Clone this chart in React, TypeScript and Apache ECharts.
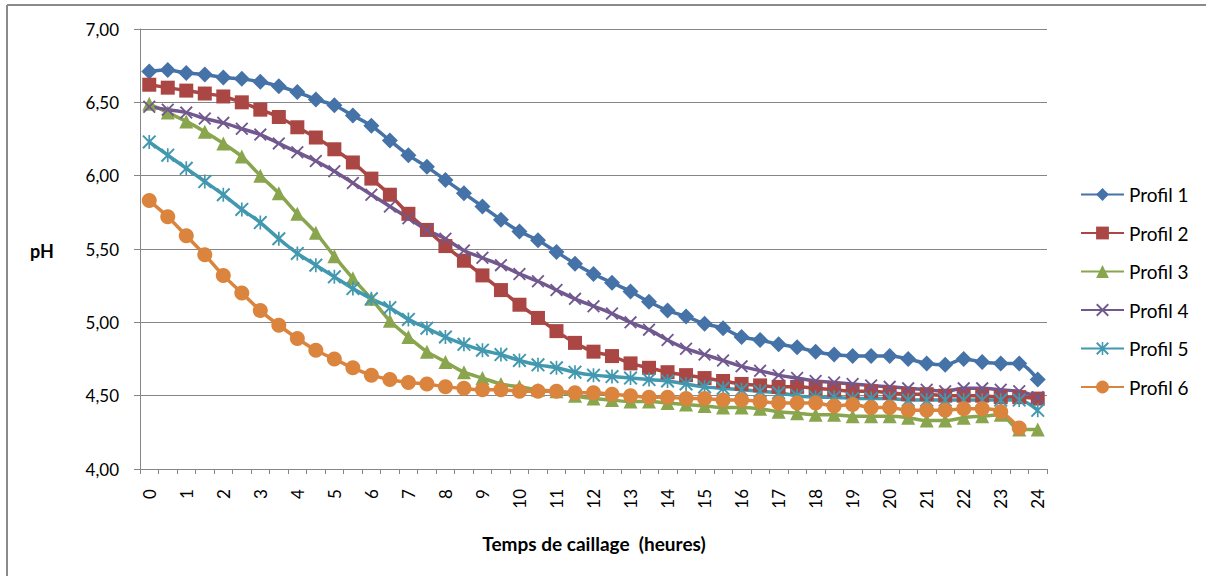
import React, { useEffect, useRef } from 'react';
import * as echarts from 'echarts';

const HOURS = ['0', '0.5', '1', '1.5', '2', '2.5', '3', '3.5', '4', '4.5', '5', '5.5', '6', '6.5', '7', '7.5', '8', '8.5', '9', '9.5', '10', '10.5', '11', '11.5', '12', '12.5', '13', '13.5', '14', '14.5', '15', '15.5', '16', '16.5', '17', '17.5', '18', '18.5', '19', '19.5', '20', '20.5', '21', '21.5', '22', '22.5', '23', '23.5', '24'];

const PROFIL_1 = [6.71, 6.72, 6.70, 6.69, 6.67, 6.66, 6.64, 6.61, 6.57, 6.52, 6.48, 6.41, 6.34,
  6.24, 6.14, 6.06, 5.97, 5.88, 5.79, 5.70, 5.62, 5.56, 5.48, 5.40, 5.33,
  5.27, 5.21, 5.14, 5.08, 5.04, 4.99, 4.96, 4.90, 4.88, 4.85, 4.83, 4.80,
  4.78, 4.77, 4.77, 4.77, 4.75, 4.72, 4.71, 4.75, 4.73, 4.72, 4.72, 4.61];
const PROFIL_2 = [6.62, 6.60, 6.58, 6.56, 6.54, 6.50, 6.45, 6.40, 6.33, 6.26, 6.18, 6.09, 5.98,
  5.87, 5.74, 5.63, 5.52, 5.42, 5.32, 5.22, 5.12, 5.03, 4.94, 4.86, 4.80,
  4.77, 4.72, 4.69, 4.66, 4.64, 4.62, 4.60, 4.58, 4.57, 4.56, 4.56, 4.55,
  4.54, 4.53, 4.53, 4.52, 4.51, 4.51, 4.50, 4.50, 4.50, 4.49, 4.49, 4.48];
const PROFIL_3 = [6.49, 6.43, 6.37, 6.30, 6.22, 6.13, 6.00, 5.88, 5.74, 5.61, 5.45, 5.30, 5.16,
  5.01, 4.90, 4.80, 4.73, 4.66, 4.62, 4.58, 4.56, 4.54, 4.53, 4.50, 4.48,
  4.47, 4.46, 4.46, 4.45, 4.44, 4.43, 4.42, 4.42, 4.41, 4.39, 4.38, 4.37,
  4.37, 4.36, 4.36, 4.36, 4.35, 4.33, 4.33, 4.35, 4.36, 4.37, 4.27, 4.27];
const PROFIL_4 = [6.47, 6.45, 6.43, 6.39, 6.36, 6.32, 6.28, 6.22, 6.16, 6.10, 6.03, 5.95, 5.87,
  5.79, 5.71, 5.63, 5.57, 5.49, 5.44, 5.39, 5.33, 5.28, 5.22, 5.16, 5.11,
  5.06, 5.00, 4.95, 4.88, 4.82, 4.78, 4.74, 4.70, 4.67, 4.64, 4.62, 4.60,
  4.59, 4.58, 4.57, 4.56, 4.55, 4.54, 4.53, 4.55, 4.55, 4.54, 4.53, 4.49];
const PROFIL_5 = [6.23, 6.14, 6.05, 5.96, 5.87, 5.77, 5.68, 5.57, 5.47, 5.39, 5.31, 5.23, 5.16,
  5.10, 5.02, 4.96, 4.90, 4.85, 4.81, 4.78, 4.74, 4.71, 4.69, 4.66, 4.64,
  4.63, 4.62, 4.61, 4.60, 4.58, 4.56, 4.55, 4.54, 4.53, 4.52, 4.50, 4.49,
  4.49, 4.48, 4.48, 4.48, 4.47, 4.47, 4.47, 4.47, 4.47, 4.47, 4.47, 4.40];
const PROFIL_6 = [5.83, 5.72, 5.59, 5.46, 5.32, 5.20, 5.08, 4.98, 4.89, 4.81, 4.75, 4.69, 4.64,
  4.61, 4.59, 4.58, 4.56, 4.55, 4.54, 4.54, 4.53, 4.53, 4.53, 4.52, 4.52,
  4.51, 4.50, 4.49, 4.49, 4.48, 4.48, 4.47, 4.47, 4.46, 4.45, 4.45, 4.45,
  4.43, 4.44, 4.42, 4.42, 4.40, 4.40, 4.40, 4.41, 4.41, 4.39, 4.28, null];

const SERIES_NAMES = ['Profil 1', 'Profil 2', 'Profil 3', 'Profil 4', 'Profil 5', 'Profil 6'];
const SERIES_DATA = [PROFIL_1, PROFIL_2, PROFIL_3, PROFIL_4, PROFIL_5, PROFIL_6];
const COLORS = ['#4572A7', '#AA4643', '#89A54E', '#71588F', '#4198AF', '#DB843D'];

const X_SYMBOL = 'path://M0,1 L1,0 L10,9 L9,10 Z M9,0 L10,1 L1,10 L0,9 Z';
const STAR_SYMBOL = 'path://M0,1 L1,0 L10,9 L9,10 Z M9,0 L10,1 L1,10 L0,9 Z M4.4,0 L5.6,0 L5.6,10 L4.4,10 Z';
const SYMBOLS = ['diamond', 'rect', 'triangle', X_SYMBOL, STAR_SYMBOL, 'circle'];
const SYMBOL_SIZES = [16, 14, 14, 13, 14, 15];

const X_TITLE = 'Temps de caillage  (heures)';
const Y_TITLE = 'pH';
const FONT = 'Lato, "Open Sans", sans-serif';

export default function App() {
  const ref = useRef<HTMLDivElement>(null);
  useEffect(() => {
    if (!ref.current) return;
    const chart = echarts.init(ref.current, undefined, { renderer: 'svg' });
    chart.setOption({
      animation: false,
      backgroundColor: '#ffffff',
      textStyle: { fontFamily: FONT },
      grid: { left: 140, right: 159, top: 29, bottom: 107, containLabel: false },
      legend: {
        orient: 'vertical',
        left: 1080,
        top: 185,
        padding: 0,
        itemWidth: 43,
        itemHeight: 16,
        itemGap: 19.5,
        textStyle: { fontSize: 19, fontFamily: FONT, color: '#000', padding: [0, 0, 0, 0] },
        data: SERIES_NAMES,
      },
      xAxis: {
        type: 'category',
        data: HOURS,
        boundaryGap: true,
        axisLine: { show: true, lineStyle: { color: '#868686', width: 1 } },
        axisTick: { show: true, interval: 0, length: 5, lineStyle: { color: '#868686' } },
        axisLabel: { interval: 1, rotate: 90, margin: 20, fontSize: 17, fontFamily: FONT, color: '#000' },
        splitLine: { show: false },
      },
      yAxis: {
        type: 'value',
        min: 4,
        max: 7,
        interval: 0.5,
        axisLine: { show: true, lineStyle: { color: '#868686', width: 1 } },
        axisTick: { show: true, length: 6, lineStyle: { color: '#868686' } },
        axisLabel: {
          margin: 21,
          fontSize: 17,
          fontFamily: FONT,
          color: '#000',
          formatter: (v: number) => v.toFixed(2).replace('.', ','),
        },
        splitLine: { show: true, lineStyle: { color: '#868686', width: 1 } },
      },
      series: SERIES_NAMES.map((name, k) => ({
        name,
        type: 'line',
        data: SERIES_DATA[k],
        smooth: 0.3,
        symbol: SYMBOLS[k],
        symbolSize: SYMBOL_SIZES[k],
        showSymbol: true,
        showAllSymbol: true,
        connectNulls: false,
        lineStyle: { color: COLORS[k], width: 3.5 },
        itemStyle: { color: COLORS[k], borderWidth: 0 },
        emphasis: { disabled: true },
      })),
      graphic: [
        { type: 'line', shape: { x1: 7, y1: 5, x2: 1206, y2: 5 }, style: { stroke: '#8a8a8a', lineWidth: 2 } },
        { type: 'line', shape: { x1: 7, y1: 5, x2: 7, y2: 576 }, style: { stroke: '#8a8a8a', lineWidth: 2 } },
        {
          type: 'text', x: 42, y: 251,
          style: { text: Y_TITLE, fontSize: 18, fontWeight: 'bold', fontFamily: FONT, fill: '#000', align: 'center', verticalAlign: 'middle' },
        },
        {
          type: 'text', x: 594, y: 543,
          style: { text: X_TITLE, fontSize: 19, fontWeight: 'bold', fontFamily: FONT, fill: '#000', align: 'center', verticalAlign: 'middle' },
        },
      ],
    });
    return () => chart.dispose();
  }, []);
  return <div ref={ref} style={{ position: 'fixed', left: 0, top: 0, width: 1206, height: 576, background: '#fff' }} />;
}
